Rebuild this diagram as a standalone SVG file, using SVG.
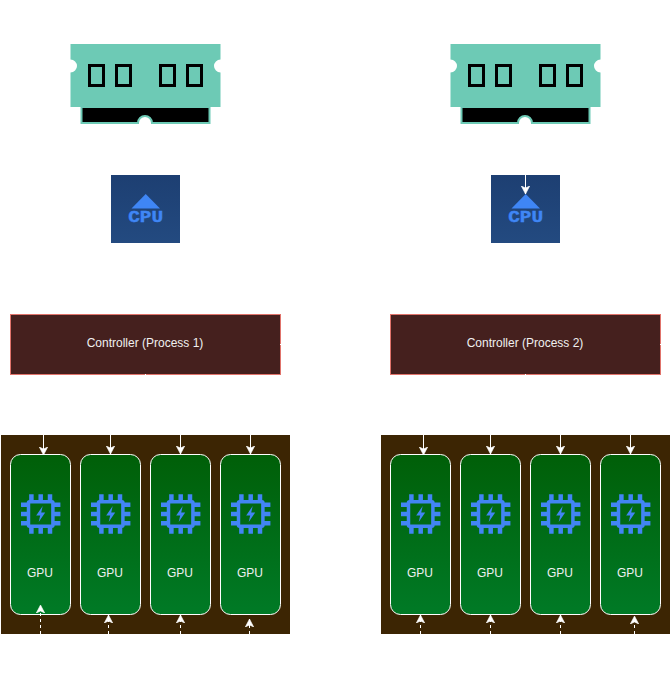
<svg xmlns="http://www.w3.org/2000/svg" xmlns:xlink="http://www.w3.org/1999/xlink" width="671" height="693" viewBox="0 0 671 693">
<style>
text{font-family:"Liberation Sans",Arial,sans-serif;font-size:12px;text-anchor:middle}
.ctl{fill:#45201e;stroke:#e0736b;stroke-width:1}
.gpu{fill:url(#gpuG);stroke:#fff;stroke-width:1}
.lbl{fill:#f0f0f0}
.panel{fill:#3c2503}
.con{fill:none;stroke:#fff;stroke-width:1}
.dash{stroke-dasharray:3 3}
.chip{fill:none;stroke:#000;stroke-width:3}
</style>
<defs>
<linearGradient id="gpuG" x1="0" y1="0" x2="0" y2="1"><stop offset="0" stop-color="#005f08"/><stop offset="1" stop-color="#007a26"/></linearGradient>
<linearGradient id="cpuG" x1="0" y1="0" x2="0" y2="1"><stop offset="0" stop-color="#1d3f72"/><stop offset="1" stop-color="#234a80"/></linearGradient>
<marker id="ah" markerUnits="userSpaceOnUse" markerWidth="12" markerHeight="12" refX="8" refY="5" orient="auto"><path d="M0 0.800L8 5L0 9.200L2 5Z" fill="#fff" stroke="#fff" stroke-width="0.6"/></marker>
<g id="ram">
<path d="M70.500 44H220.500V59.500A6.500 6.500 0 0 0 220.500 72.500V107H70.500V72.500A6.500 6.500 0 0 0 70.500 59.500Z" fill="#6dcab5"/>
<path d="M81.500 107H209.500V123H152A7 7 0 0 0 138 123H81.500Z" fill="#000" stroke="#6dcab5" stroke-width="2"/>
<rect class="chip" x="89.500" y="65.500" width="14" height="20"/>
<rect class="chip" x="116.500" y="65.500" width="14" height="20"/>
<rect class="chip" x="160.500" y="65.500" width="14" height="20"/>
<rect class="chip" x="187.500" y="65.500" width="14" height="20"/>
</g>
<g id="cpu">
<rect width="69" height="68" fill="url(#cpuG)"/>
<path d="M34.700 19L49 33.500H20.500Z" fill="#3f86f5"/>
<text x="34.700" y="47" textLength="35" lengthAdjust="spacingAndGlyphs" style="font-family:'Liberation Mono',monospace;font-size:16px;font-weight:bold;fill:#3f86f5;stroke:#3f86f5;stroke-width:0.4">CPU</text>
</g>
<g id="chipIcon" fill="none" stroke="#4285f4">
<rect x="-12.200" y="-12.200" width="24.400" height="24.400" rx="1" stroke-width="3.500"/>
<path d="M-9.300-19.700V-13M0-19.700V-13M9.300-19.700V-13M-9.300 19.700V13M0 19.700V13M9.300 19.700V13M-19.700-9.300H-13M-19.700 0H-13M-19.700 9.300H-13M19.700-9.300H13M19.700 0H13M19.700 9.300H13" stroke-width="4.500"/>
<path d="M2-8L-4.500 1.500H-0.500L-2 8L4.500-1.500H0.500Z" fill="#4285f4" stroke="none"/>
</g>
<rect id="card" class="gpu" width="60" height="160" rx="10" ry="10"/>
</defs>

<g id="ram-1"><use href="#ram"/></g>
<g id="ram-2"><use href="#ram" x="380"/></g>
<g id="cpu-1"><use href="#cpu" x="111" y="175"/></g>
<g id="cpu-2"><use href="#cpu" x="491" y="175"/></g>
<g id="controller-1"><rect class="ctl" x="10.500" y="314.500" width="270" height="60"/><text class="lbl" x="145" y="347">Controller (Process 1)</text></g>
<g id="controller-2"><rect class="ctl" x="390.500" y="314.500" width="270" height="60"/><text class="lbl" x="525" y="347">Controller (Process 2)</text></g>
<g id="panel-1"><rect class="panel" x="1" y="435" width="289" height="199"/></g>
<g id="panel-2"><rect class="panel" x="381" y="435" width="289" height="199"/></g>

<g id="gpu-1-1"><use href="#card" x="10.500" y="454.500"/><use href="#chipIcon" x="40.700" y="514"/><text class="lbl" x="40" y="577">GPU</text></g>
<g id="gpu-1-2"><use href="#card" x="80.500" y="454.500"/><use href="#chipIcon" x="110.700" y="514"/><text class="lbl" x="110" y="577">GPU</text></g>
<g id="gpu-1-3"><use href="#card" x="150.500" y="454.500"/><use href="#chipIcon" x="180.700" y="514"/><text class="lbl" x="180" y="577">GPU</text></g>
<g id="gpu-1-4"><use href="#card" x="220.500" y="454.500"/><use href="#chipIcon" x="250.700" y="514"/><text class="lbl" x="250" y="577">GPU</text></g>
<g id="gpu-2-1"><use href="#card" x="390.500" y="454.500"/><use href="#chipIcon" x="420.700" y="514"/><text class="lbl" x="420" y="577">GPU</text></g>
<g id="gpu-2-2"><use href="#card" x="460.500" y="454.500"/><use href="#chipIcon" x="490.700" y="514"/><text class="lbl" x="490" y="577">GPU</text></g>
<g id="gpu-2-3"><use href="#card" x="530.500" y="454.500"/><use href="#chipIcon" x="560.700" y="514"/><text class="lbl" x="560" y="577">GPU</text></g>
<g id="gpu-2-4"><use href="#card" x="600.500" y="454.500"/><use href="#chipIcon" x="630.700" y="514"/><text class="lbl" x="630" y="577">GPU</text></g>

<g id="connectors">
<path class="con" marker-end="url(#ah)" d="M525.500 175V194"/>
<path class="con" marker-end="url(#ah)" d="M43.500 430V455"/><path class="con" marker-end="url(#ah)" d="M110.500 430V454"/><path class="con" marker-end="url(#ah)" d="M180.500 430V454"/><path class="con" marker-end="url(#ah)" d="M250.500 430V454"/>
<path class="con" marker-end="url(#ah)" d="M423.500 430V455"/><path class="con" marker-end="url(#ah)" d="M490.500 430V454"/><path class="con" marker-end="url(#ah)" d="M560.500 430V454"/><path class="con" marker-end="url(#ah)" d="M630.500 430V454"/>
<path class="con dash" marker-end="url(#ah)" d="M40.500 634V605"/><path class="con dash" marker-end="url(#ah)" d="M108.500 634V615"/><path class="con dash" marker-end="url(#ah)" d="M180.500 634V615"/><path class="con dash" marker-end="url(#ah)" d="M249.500 634V619"/>
<path class="con dash" marker-end="url(#ah)" d="M420.500 634V615"/><path class="con dash" marker-end="url(#ah)" d="M490.500 634V615"/><path class="con dash" marker-end="url(#ah)" d="M560.500 634V615"/><path class="con dash" marker-end="url(#ah)" d="M634.500 634V616"/>
<path class="con" d="M280 344.500H282M145.500 374V376M660 344.500H662M525.500 374V376"/>
</g>
</svg>
